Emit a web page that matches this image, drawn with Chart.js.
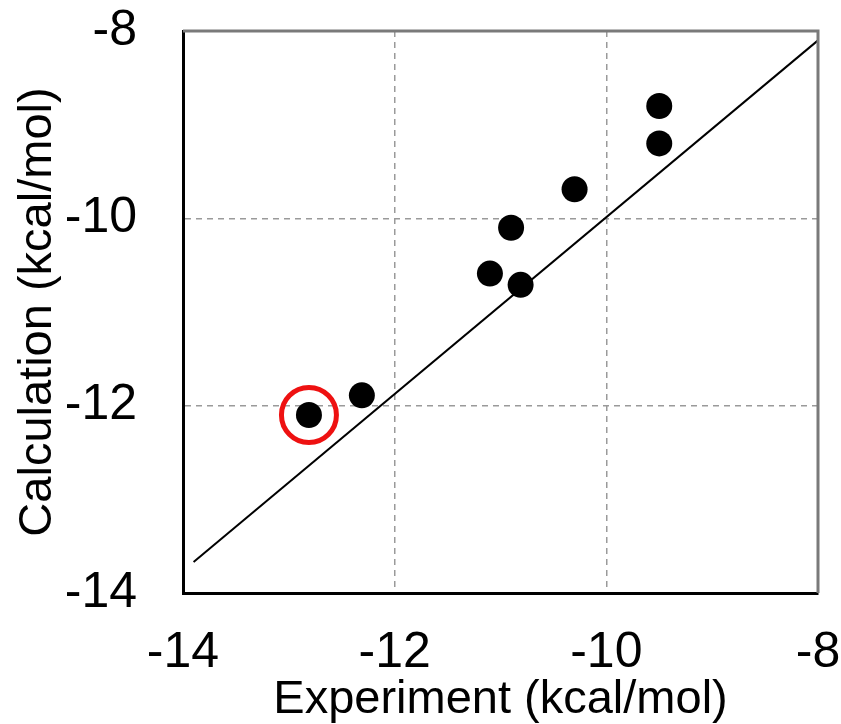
<!DOCTYPE html>
<html>
<head>
<meta charset="utf-8">
<script src="https://cdn.jsdelivr.net/npm/chart.js@4"></script>
<style>
  html, body { margin: 0; padding: 0; background: #fff; overflow: hidden; }
  #wrap { width: 841px; height: 724px; position: relative; }
  canvas { display: block; }
</style>
</head>
<body>
<div id="wrap"><canvas id="chart"></canvas></div>
<script>
// experiment vs calculation binding energies (kcal/mol)
const expValues = [-12.81, -12.31, -11.10, -10.90, -10.81, -10.30, -9.50, -9.50];
const calcValues = [-12.10, -11.89, -10.59, -10.10, -10.71, -9.69, -8.80, -9.20];

// fitted line endpoints
const lineX = [-13.9, -8.0];
const lineY = [-13.67, -8.1];

// highlighted compound
const highlightX = [-12.81];
const highlightY = [-12.10];

const axisMin = -14;
const axisMax = -8;
const tickValues = [-14, -12, -10, -8];

const fontFamily = '"Liberation Sans", Arial, sans-serif';

const points = expValues.map((x, i) => ({ x, y: calcValues[i] }));
const linePts = lineX.map((x, i) => ({ x, y: lineY[i] }));
const highlightPts = highlightX.map((x, i) => ({ x, y: highlightY[i] }));

function gridColor(ctx) {
  const v = ctx.tick && ctx.tick.value;
  return (v === axisMin || v === axisMax) ? 'rgba(0,0,0,0)' : '#9a9a9a';
}

function noPadding(s) {
  s.paddingTop = 0;
  s.paddingBottom = 0;
  s.paddingLeft = 0;
  s.paddingRight = 0;
}

// gray top and right edges of the plot box
const frameEdges = {
  id: 'frameEdges',
  afterDraw(chart) {
    const { ctx, chartArea: a } = chart;
    ctx.save();
    ctx.strokeStyle = '#7a7a7a';
    ctx.lineWidth = 3;
    ctx.beginPath();
    ctx.moveTo(a.left, a.top);
    ctx.lineTo(a.right, a.top);
    ctx.lineTo(a.right, a.bottom);
    ctx.stroke();
    ctx.restore();
  }
};

new Chart(document.getElementById('chart'), {
  type: 'scatter',
  data: {
    datasets: [
      {
        type: 'line',
        data: linePts,
        borderColor: '#000',
        borderWidth: 2,
        pointRadius: 0,
        fill: false,
        order: 3
      },
      {
        data: highlightPts,
        pointRadius: 27.5,
        backgroundColor: 'rgba(0,0,0,0)',
        borderColor: '#ee1111',
        borderWidth: 5,
        order: 2
      },
      {
        data: points,
        pointRadius: 13,
        backgroundColor: '#000',
        borderColor: '#000',
        borderWidth: 0,
        order: 1
      }
    ]
  },
  plugins: [frameEdges],
  options: {
    responsive: true,
    maintainAspectRatio: false,
    animation: false,
    layout: { autoPadding: false, padding: { top: 31, right: 23, left: 0, bottom: 0 } },
    plugins: {
      legend: { display: false },
      tooltip: { enabled: false }
    },
    scales: {
      x: {
        type: 'linear',
        min: axisMin,
        max: axisMax,
        afterBuildTicks: s => { s.ticks = tickValues.map(v => ({ value: v })); },
        afterFit: s => {
          s.height = 131;
          noPadding(s);
        },
        ticks: {
          color: '#000',
          font: { family: fontFamily, size: 50 },
          padding: 30,
          maxRotation: 0
        },
        grid: { color: gridColor, lineWidth: 1.5, drawTicks: false },
        border: { color: '#000', width: 3, dash: [6, 5] },
        title: {
          display: true,
          text: 'Experiment (kcal/mol)',
          color: '#000',
          font: { family: fontFamily, size: 47, lineHeight: 1.0 },
          padding: 0
        }
      },
      y: {
        type: 'linear',
        min: axisMin,
        max: axisMax,
        afterBuildTicks: s => { s.ticks = tickValues.map(v => ({ value: v })); },
        afterFit: s => {
          s.width = 183;
          noPadding(s);
        },
        ticks: {
          color: '#000',
          font: { family: fontFamily, size: 50 },
          padding: 46
        },
        grid: { color: gridColor, lineWidth: 1.5, drawTicks: false },
        border: { color: '#000', width: 3, dash: [6, 5] },
        title: {
          display: true,
          text: 'Calculation (kcal/mol)',
          color: '#000',
          font: { family: fontFamily, size: 47 },
          padding: { top: 10, bottom: 0 }
        }
      }
    }
  }
});
</script>
</body>
</html>
